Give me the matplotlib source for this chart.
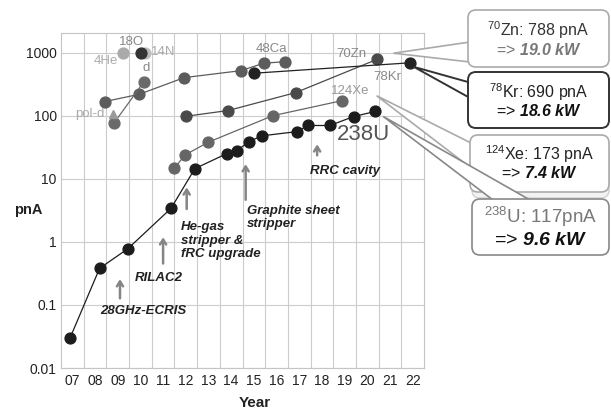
import numpy as np
import matplotlib
matplotlib.use('Agg')
import matplotlib.pyplot as plt
from matplotlib.patches import FancyBboxPatch, Polygon
from matplotlib.ticker import NullLocator

plt.rcParams['font.family'] = 'Liberation Sans'
plt.rcParams['mathtext.fontset'] = 'custom'
plt.rcParams['mathtext.rm'] = 'Liberation Sans'
plt.rcParams['mathtext.it'] = 'Liberation Sans:italic'
plt.rcParams['mathtext.bf'] = 'Liberation Sans:bold'
plt.rcParams['mathtext.bfit'] = 'Liberation Sans:italic:bold'

# data (year as 2-digit number, beam intensity in pnA)
u_x = [6.9, 8.2, 9.45, 11.35, 12.4, 13.8, 14.25, 14.8, 15.35, 16.9, 17.4, 18.35, 19.4, 20.35]
u_y = [0.03, 0.38, 0.78, 3.4, 14.5, 25, 28, 39, 48, 56, 70, 70, 97, 117]
xe_x = [11.48, 11.98, 12.99, 15.83, 18.87]
xe_y = [14.6, 24, 38, 100, 173]
zn_x = [12.0, 13.87, 16.85, 20.45]
zn_y = [98, 121, 233, 788]
kr_x = [15.0, 21.87]
kr_y = [472, 690]
ca_x = [8.44, 9.95, 11.93, 14.42, 15.44, 16.37]
ca_y = [168, 219, 402, 518, 680, 720]
d_x = [8.83, 10.16]
d_y = [76, 348]
he_x, he_y = [9.24], [1000]
n_x, n_y = [10.2], [1000]
o_x, o_y = [10.02], [1000]
pold_x, pold_y = [8.8], [106]

years = list(range(7, 23))
year_labels = ['%02d' % y for y in years]
yticks = [0.01, 0.1, 1, 10, 100, 1000]
ytick_labels = ['0.01', '0.1', '1', '10', '100', '1000']

W, H = 611, 412
fig = plt.figure(figsize=(W/100, H/100), dpi=100)
ax = fig.add_axes([61/W, 1-368/H, (424-61)/W, (368-33)/H])
ax.set_yscale('log')
ax.set_xlim(6.5, 22.5)
ax.set_ylim(0.01, 2050)
ax.set_xticks(years)
ax.set_xticklabels(year_labels, fontsize=10, color='#222222')
ax.set_xticks(np.arange(7.5, 22.5, 1.0), minor=True)
ax.set_yticks(yticks)
ax.set_yticklabels(ytick_labels, fontsize=10, color='#222222')
ax.yaxis.set_minor_locator(NullLocator())
ax.tick_params(which='both', length=0)
ax.tick_params(axis='y', pad=3)
ax.tick_params(axis='x', pad=4)
ax.grid(True, axis='x', which='minor', color='#cccccc', lw=0.8)
ax.grid(True, axis='y', which='major', color='#cccccc', lw=0.8)
for s in ax.spines.values():
    s.set_color('#c4c4c4')
    s.set_linewidth(0.8)

ms = 7.8
ax.plot(ca_x, ca_y, '-o', color='#5c5c5c', ms=ms, lw=0.9, zorder=3)
ax.plot(d_x, d_y, '-o', color='#6a6a6a', ms=ms, lw=0.9, zorder=3)
ax.plot(zn_x, zn_y, '-o', color='#4a4a4a', ms=ms, lw=0.9, zorder=3)
ax.plot(kr_x, kr_y, '-o', color='#222222', ms=ms, lw=0.9, zorder=3)
ax.plot(xe_x, xe_y, '-o', color='#666666', ms=ms, lw=0.9, zorder=3)
ax.plot(u_x, u_y, '-o', color='#1c1c1c', ms=ms, lw=0.9, zorder=4)
ax.plot(n_x, n_y, 'o', color='#bdbdbd', ms=ms, zorder=3)
ax.plot(he_x, he_y, 'o', color='#aaaaaa', ms=ms, zorder=3)
ax.plot(o_x, o_y, 'o', color='#333333', ms=ms, zorder=4)
ax.plot(pold_x, pold_y, '^', color='#9a9a9a', ms=6, zorder=3)

# isotope labels
lab = dict(ha='center', va='center', fontsize=9.5)
ax.text(9.61, 1490, '18O', color='#888888', **lab)
ax.text(8.48, 740, '4He', color='#aaaaaa', **lab)
ax.text(10.99, 1037, '14N', color='#aaaaaa', **lab)
ax.text(10.24, 566, 'd', color='#888888', **lab)
ax.text(7.78, 106, 'pol-d', color='#aaaaaa', **lab)
ax.text(15.78, 1130, '48Ca', color='#888888', **lab)
ax.text(19.3, 955, '70Zn', color='#888888', **lab)
ax.text(20.9, 408, '78Kr', color='#888888', **lab)
ax.text(19.23, 250, '124Xe', color='#999999', **lab)
ax.text(19.85, 50, '238U', color='#555555', ha='center', va='center', fontsize=16)

# upgrade arrows
arr = dict(arrowstyle='->,head_length=0.35,head_width=0.22', color='#858585', lw=1.8)
ann = dict(fontsize=9.5, fontweight='bold', fontstyle='italic', color='#222222',
           linespacing=1.15)
ax.annotate('', xy=(9.1, 0.284), xytext=(9.1, 0.115), arrowprops=arr)
ax.text(8.22, 0.079, '28GHz-ECRIS', ha='left', va='center', **ann)
ax.annotate('', xy=(11.0, 1.31), xytext=(11.0, 0.41), arrowprops=arr)
ax.text(9.76, 0.27, 'RILAC2', ha='left', va='center', **ann)
ax.annotate('', xy=(12.04, 8.1), xytext=(12.04, 3.0), arrowprops=arr)
ax.text(11.79, 1.04, 'He-gas\nstripper &\nfRC upgrade', ha='left', va='center', **ann)
ax.annotate('', xy=(14.64, 18.9), xytext=(14.64, 4.2), arrowprops=arr)
ax.text(14.68, 2.45, 'Graphite sheet\nstripper', ha='left', va='center', **ann)
ax.annotate('', xy=(17.79, 39), xytext=(17.79, 21.3), arrowprops=arr)
ax.text(17.47, 13.1, 'RRC cavity', ha='left', va='center', **ann)

fig.text(28/W, 1-210/H, 'pnA', ha='center', va='center', fontsize=10.5,
         fontweight='bold', color='#222222')
fig.text(255/W, 1-403/H, 'Year', ha='center', va='center', fontsize=11,
         fontweight='bold', color='#222222')

# callout overlay in pixel coords
oax = fig.add_axes([0, 0, 1, 1], zorder=5)
oax.set_xlim(0, W)
oax.set_ylim(H, 0)
oax.axis('off')
oax.patch.set_alpha(0)


def to_px(x, y):
    return oax.transData.inverted().transform(ax.transData.transform((x, y)))


def callout(box, base, tip, ec, lw, lines, shadow=False):
    x0, y0, w, h = box
    if shadow:
        oax.add_patch(FancyBboxPatch((x0 + 2, y0 + 6), w - 2, h, boxstyle='round,pad=0,rounding_size=8',
                                     fc='#f2f2f2', ec='#d0d0d0', lw=1))
    oax.add_patch(Polygon([base[0], base[1], tip], closed=True, fc='white', ec=ec, lw=lw))
    oax.add_patch(FancyBboxPatch((x0, y0), w, h, boxstyle='round,pad=0,rounding_size=8',
                                 fc='white', ec=ec, lw=lw))
    for (txt, yy, fs, col) in lines:
        oax.text(x0 + w/2, yy, txt, ha='center', va='center', fontsize=fs, color=col)


tx, ty = to_px(zn_x[-1], zn_y[-1])
callout((468, 10, 141, 57), [(470, 42), (470, 62)], (tx + 16, ty - 6), '#aaaaaa', 1.2,
        [(r'$^{\mathregular{70}}$Zn: 788 pnA', 30, 11.5, '#333333'),
         (r'=> $\mathbfit{19.0\ kW}$', 50, 11.5, '#777777')])
tx, ty = to_px(kr_x[-1], kr_y[-1])
callout((468, 72, 141, 56), [(468, 82), (470, 98)], (tx + 4, ty + 4), '#333333', 1.4,
        [(r'$^{\mathregular{78}}$Kr: 690 pnA', 92, 11.5, '#222222'),
         (r'=> $\mathbfit{18.6\ kW}$', 111, 11.5, '#111111')])
tx, ty = to_px(xe_x[-1], xe_y[-1])
callout((470, 135, 139, 57), [(471, 143), (471, 168)], (tx + 35, ty - 5), '#aaaaaa', 1.2,
        [(r'$^{\mathregular{124}}$Xe: 173 pnA', 154, 11.5, '#222222'),
         (r'=> $\mathbfit{7.4\ kW}$', 173, 11.5, '#111111')], shadow=True)
tx, ty = to_px(u_x[-1], u_y[-1])
callout((472, 199, 137, 56), [(493, 200), (530, 200)], (tx + 8, ty + 5), '#888888', 1.2,
        [(r'$^{\mathregular{238}}$U: 117pnA', 217, 13.5, '#777777'),
         (r'=> $\mathbfit{9.6\ kW}$', 240, 14, '#111111')])

fig.savefig('out.png', dpi=100)
